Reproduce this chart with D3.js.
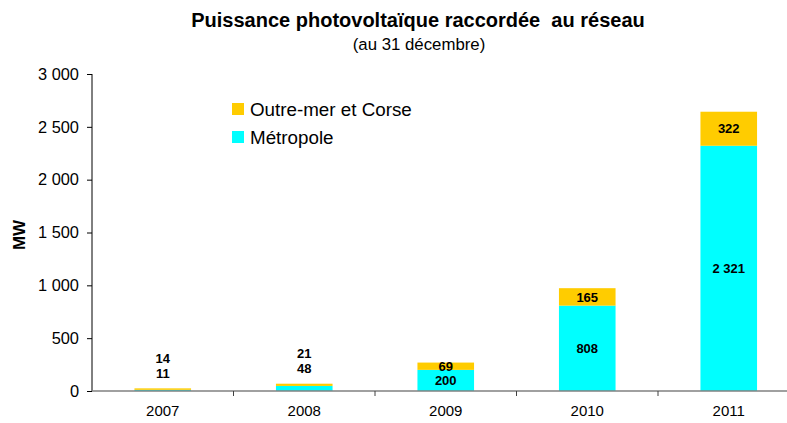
<!DOCTYPE html>
<html>
<head>
<meta charset="utf-8">
<script src="https://cdn.jsdelivr.net/npm/d3@7"></script>
<style>
  body { margin: 0; background: #fff; }
  text { font-family: "Liberation Sans", Arial, sans-serif; }
</style>
</head>
<body>
<div id="chart"></div>
<script>
const width = 787;
const height = 423;

const years = ["2007", "2008", "2009", "2010", "2011"];
const metropole = [11, 48, 200, 808, 2321];
const outremer = [14, 21, 69, 165, 322];
const seriesNames = ["Métropole", "Outre-mer et Corse"];
const seriesColors = ["#00FFFF", "#FFCC00"];
const yTicks = [0, 500, 1000, 1500, 2000, 2500, 3000];

const margin = {left: 92, top: 74, bottom: 391};
const step = 141.5;

const svg = d3.select("#chart").append("svg")
  .attr("width", width)
  .attr("height", height);

const x = d3.scaleBand()
  .domain(years)
  .range([margin.left, margin.left + step * years.length])
  .padding(0);

const y = d3.scaleLinear()
  .domain([0, 3000])
  .range([margin.bottom, margin.top]);

const rows = years.map((yr, i) => ({year: yr, "Métropole": metropole[i], "Outre-mer et Corse": outremer[i]}));
const stacked = d3.stack().keys(seriesNames)(rows);

const barW = x.bandwidth() * 0.4;
const fmt = d => d3.format(",")(d).replace(/,/g, " ");

// title
svg.append("text")
  .attr("x", 418).attr("y", 27)
  .attr("text-anchor", "middle")
  .style("font-size", "20px").style("font-weight", "bold")
  .style("white-space", "pre")
  .text("Puissance photovoltaïque raccordée  au réseau");

svg.append("text")
  .attr("x", 419).attr("y", 50)
  .attr("text-anchor", "middle")
  .style("font-size", "16.8px")
  .text("(au 31 décembre)");

// bars
stacked.forEach((s, si) => {
  svg.append("g").selectAll("rect")
    .data(s)
    .join("rect")
    .attr("x", d => x(d.data.year) + (x.bandwidth() - barW) / 2)
    .attr("width", barW)
    .attr("y", d => y(d[1]))
    .attr("height", d => y(d[0]) - y(d[1]))
    .attr("fill", seriesColors[si]);
});

// data labels (small bars get their labels above)
stacked.forEach((s, si) => {
  svg.append("g").selectAll("text")
    .data(s)
    .join("text")
    .attr("x", d => x(d.data.year) + x.bandwidth() / 2)
    .attr("y", d => {
      const total = d.data["Métropole"] + d.data["Outre-mer et Corse"];
      if (total < 100) return y(total) - (si === 0 ? 15 : 30);
      return (y(d[0]) + y(d[1])) / 2;
    })
    .attr("dy", "0.36em")
    .attr("text-anchor", "middle")
    .style("font-size", "13px").style("font-weight", "bold")
    .text(d => fmt(d[1] - d[0]));
});

// y axis
const yAxis = svg.append("g")
  .attr("transform", `translate(${margin.left},0)`)
  .call(d3.axisLeft(y).tickValues(yTicks).tickSize(5).tickPadding(8).tickFormat(fmt));
yAxis.select(".domain").attr("stroke", "#000").attr("d", `M0,${margin.top}V${margin.bottom}`);
yAxis.selectAll("line").attr("stroke", "#000");
yAxis.selectAll("text").style("font-size", "16.4px").attr("fill", "#000")
  .style("font-family", "'Liberation Sans', Arial, sans-serif");

// x axis
const xg = svg.append("g");
xg.append("line")
  .attr("x1", margin.left).attr("x2", width)
  .attr("y1", margin.bottom).attr("y2", margin.bottom)
  .attr("stroke", "#808080").attr("stroke-width", 1.5);
xg.selectAll(".tk")
  .data(years.slice(1))
  .join("line")
  .attr("x1", d => x(d)).attr("x2", d => x(d))
  .attr("y1", margin.bottom).attr("y2", margin.bottom + 5)
  .attr("stroke", "#404040");
xg.selectAll(".lbl")
  .data(years)
  .join("text")
  .attr("x", d => x(d) + x.bandwidth() / 2)
  .attr("y", 416)
  .attr("text-anchor", "middle")
  .style("font-size", "15px")
  .text(d => d);

// y label
svg.append("text")
  .attr("transform", "translate(25,235) rotate(-90)")
  .attr("text-anchor", "middle")
  .style("font-size", "17px").style("font-weight", "bold")
  .text("MW");

// legend
const legend = svg.append("g");
const legendOrder = [1, 0];
legendOrder.forEach((si, i) => {
  const ly = 109 + i * 28;
  legend.append("rect")
    .attr("x", 232).attr("y", ly - 6)
    .attr("width", 12).attr("height", 12)
    .attr("fill", seriesColors[si]);
  legend.append("text")
    .attr("x", 250).attr("y", ly)
    .attr("dy", "0.36em")
    .style("font-size", "18.8px")
    .text(seriesNames[si]);
});
</script>
</body>
</html>
